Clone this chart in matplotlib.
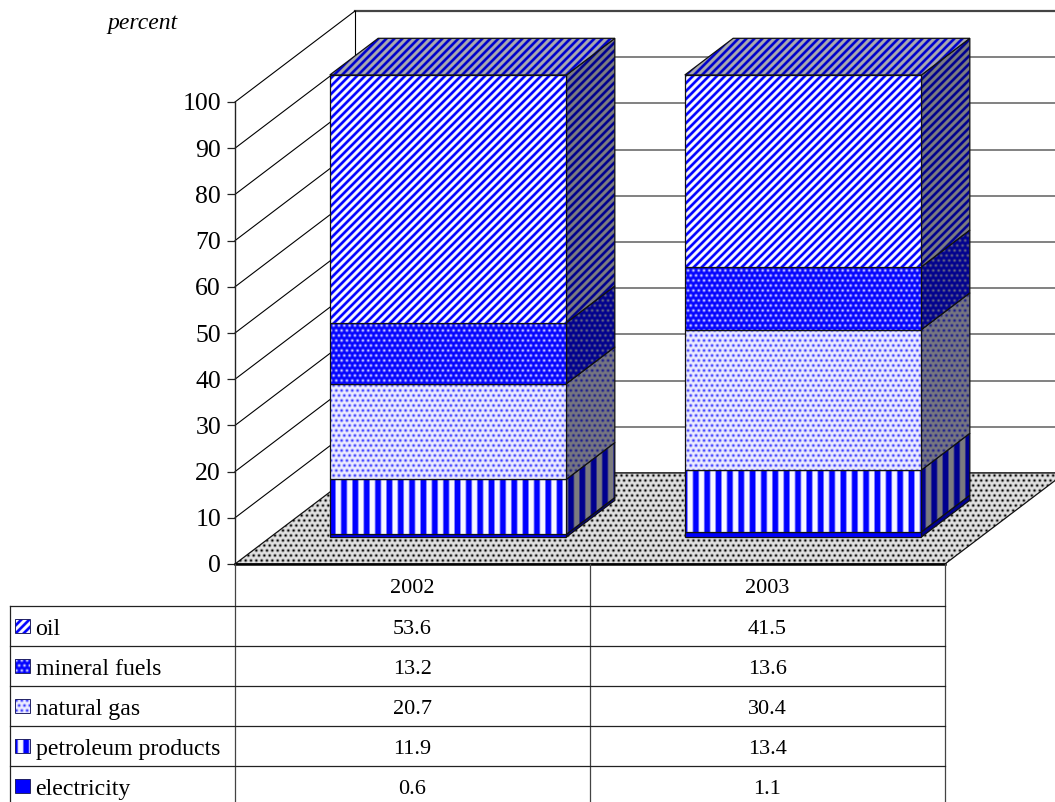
import numpy as np
import matplotlib
matplotlib.use('Agg')
import matplotlib.pyplot as plt
from matplotlib.patches import Polygon

plt.rcParams['font.family'] = ['Liberation Serif', 'DejaVu Serif']

years = ['2002', '2003']
# stacked bottom to top
series = ['electricity', 'petroleum products', 'natural gas', 'mineral fuels', 'oil']
electricity = [0.6, 1.1]
petroleum = [11.9, 13.4]
natural_gas = [20.7, 30.4]
mineral_fuels = [13.2, 13.6]
oil = [53.6, 41.5]
ticks = list(range(0, 101, 10))

W, H = 1055, 802
PX_X = 355.0       # pixels per category
PX_Y = 4.62        # pixels per percent
LEFT, BASE = 235, 564
WALL_DX, WALL_DY = 120 / PX_X, 91 / PX_Y     # depth of the chart box
BAR_START, BAR_END = 0.297, 0.70             # bar depth as share of the box
BAR_W = 2 / 3

yy, xx = np.mgrid[0:H, 0:W]


def diagonal():
    return np.clip(0.42 + 0.75 * np.cos(2 * np.pi * (xx + yy) / 8), 0.03, 1)


def vertical():
    return np.clip(0.55 + 1.0 * np.cos(2 * np.pi * (xx - 3) / 11.35), 0.03, 1)


def dots(period, sigma):
    row = np.round(yy / 5.0)
    shift = (row % 2) * period / 2
    dx = (xx - shift + period / 2) % period - period / 2
    dy = yy - row * 5.0
    return np.exp(-(dx ** 2 + dy ** 2) / (2 * sigma ** 2))


BLUE = np.array([0, 0, 1.0])
WHITE = np.array([1.0, 1.0, 1.0])
BLACK = np.array([0, 0, 0.0])
SHADE = {'front': (1.0, 1.0), 'top': (0.68, 0.8), 'side': (0.5, 0.56)}

blue_ink = {
    'electricity': np.ones((H, W)),
    'petroleum products': vertical(),
    'natural gas': 0.05 + dots(5.33, 1.05) * 0.72,
    'mineral fuels': 1 - dots(5.33, 1.0) * 0.8,
    'oil': diagonal(),
}


def texture(ink, face):
    paper, ink_shade = SHADE[face]
    a = ink[..., None]
    return np.clip(a * BLUE * ink_shade + (1 - a) * WHITE * paper, 0, 1)


fig = plt.figure(figsize=(W / 100, H / 100), dpi=100)
fig.patch.set_facecolor('white')
ax = fig.add_axes([LEFT / W, (H - BASE) / H, 2 * PX_X / W, 100 * PX_Y / H])
ax.patch.set_visible(False)
xlim, ylim = (0, 2), (0, 100)
full_extent = (-LEFT / PX_X, (W - LEFT) / PX_X, (BASE - H) / PX_Y, BASE / PX_Y)


def fill_face(points, rgb, zorder):
    im = ax.imshow(rgb, extent=full_extent, aspect='auto', interpolation='nearest',
                   zorder=zorder, origin='upper')
    im.set_clip_box(fig.bbox)
    clip = Polygon(points, closed=True, transform=ax.transData)
    im.set_clip_path(clip)
    ax.add_patch(Polygon(points, closed=True, fill=False, edgecolor='#111111',
                         linewidth=0.9, zorder=zorder + 0.1, clip_on=False))


# back wall grid and side wall lines
for t in ticks:
    ax.plot([WALL_DX, 2 + WALL_DX], [t + WALL_DY] * 2,
            color='#444444' if t == 100 else '#777777',
            lw=1.6 if t == 100 else 1.3, clip_on=False, zorder=1)
    if t > 0:
        ax.plot([0, WALL_DX], [t, t + WALL_DY], color='black', lw=0.8,
                clip_on=False, zorder=1)
ax.plot([WALL_DX, WALL_DX], [WALL_DY, 100 + WALL_DY], color='black', lw=0.8,
        clip_on=False, zorder=1)

# floor
floor_ink = dots(5.33, 0.95)[..., None]
floor_rgb = floor_ink * BLACK * 0.8 + (1 - floor_ink) * WHITE * 0.9
floor = [(0, 0), (2, 0), (2 + WALL_DX, WALL_DY), (WALL_DX, WALL_DY)]
fill_face(floor, floor_rgb, 2)

# stacked 3d bars
stack = [electricity, petroleum, natural_gas, mineral_fuels, oil]
dx0, dy0 = BAR_START * WALL_DX, BAR_START * WALL_DY
ddx, ddy = (BAR_END - BAR_START) * WALL_DX, (BAR_END - BAR_START) * WALL_DY
z = 3.0
for c in range(len(years)):
    x0 = c + (1 - BAR_W) / 2 + dx0
    x1 = x0 + BAR_W
    bottom = dy0
    for name, vals in zip(series, stack):
        top = bottom + vals[c]
        ink = blue_ink[name]
        fill_face([(x1, bottom), (x1 + ddx, bottom + ddy), (x1 + ddx, top + ddy), (x1, top)],
                  texture(ink, 'side'), z)
        fill_face([(x0, bottom), (x1, bottom), (x1, top), (x0, top)],
                  texture(ink, 'front'), z + 0.2)
        bottom = top
        z += 0.5
    fill_face([(x0, bottom), (x1, bottom), (x1 + ddx, bottom + ddy), (x0 + ddx, bottom + ddy)],
              texture(blue_ink['oil'], 'top'), z)
    z += 0.5

ax.set_xlim(xlim)
ax.set_ylim(ylim)
ax.set_xticks([])
ax.set_yticks(ticks)
ax.tick_params(axis='y', length=5.8, width=0.9, labelsize=18.5, pad=4.2, color='#222222')
for side in ['top', 'right']:
    ax.spines[side].set_visible(False)
ax.spines['left'].set_linewidth(1.0)
ax.spines['left'].set_color('#222222')
ax.spines['bottom'].set_linewidth(1.8)
ax.spines['bottom'].set_zorder(40)

# data table under the plot
tb = fig.add_axes([0, 0, 1, 1], zorder=5)
tb.patch.set_visible(False)
tb.set_xlim(0, W)
tb.set_ylim(H, 0)
tb.axis('off')

col_x = [LEFT, LEFT + PX_X, LEFT + 2 * PX_X]
row_y = [606, 646, 686, 726, 766]
for x in col_x:
    tb.plot([x, x], [BASE, H], color='#444444', lw=0.9)
tb.plot([10, 10], [row_y[0], H], color='#222222', lw=0.9)
for y in row_y:
    tb.plot([10, col_x[-1]], [y, y], color='#222222', lw=0.9)

for i, yr in enumerate(years):
    tb.text(col_x[i] + PX_X / 2, 593, yr, ha='center', va='baseline', fontsize=16)

rows = list(zip(series, stack))[::-1]
for y, (name, vals) in zip(row_y, rows):
    mid = y + 20
    for i, v in enumerate(vals):
        tb.text(col_x[i] + PX_X / 2, mid + 8, f'{v:.1f}', ha='center', va='baseline', fontsize=16)
    tb.text(35.5, mid + 9, name, ha='left', va='baseline', fontsize=17.2)
    box = [(15, mid - 7), (30, mid - 7), (30, mid + 7), (15, mid + 7)]
    ink = blue_ink[name]
    im = tb.imshow(texture(ink, 'front'), extent=(0, W, H, 0), aspect='auto',
                   interpolation='nearest', origin='upper')
    im.set_clip_path(Polygon(box, closed=True, transform=tb.transData))
    tb.add_patch(Polygon(box, closed=True, fill=False, edgecolor='#222266', lw=0.7))
tb.set_xlim(0, W)
tb.set_ylim(H, 0)

tb.text(107, 23, 'percent', style='italic', ha='left', va='center', fontsize=17)

fig.savefig('out.png', dpi=100)
